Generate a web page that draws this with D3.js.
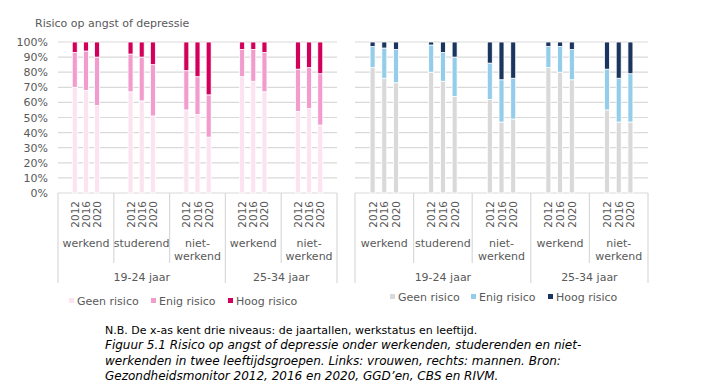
<!DOCTYPE html>
<html>
<head>
<meta charset="utf-8">
<script src="https://cdn.jsdelivr.net/npm/d3@7"></script>
<style>
  body { margin: 0; background: #fff; }
  text { font-family: "DejaVu Sans", Verdana, sans-serif; }
</style>
</head>
<body>
<div id="container"></div>
<script>
/* DATA */
const years = ['2012', '2016', '2020'];
const statuses = ['werkend', 'studerend', 'niet-werkend', 'werkend', 'niet-werkend'];
const statusAge = [0, 0, 0, 1, 1]; // index into ages
const ages = ['19-24 jaar', '25-34 jaar'];
const riskLabels = ['Geen risico', 'Enig risico', 'Hoog risico'];
const yTicks = [0, 0.1, 0.2, 0.3, 0.4, 0.5, 0.6, 0.7, 0.8, 0.9, 1];

// vrouwen (links), per groep 2012/2016/2020
const vrouwenGeen = [70, 68, 58, 67, 61, 51, 55, 52, 37, 77, 74, 67, 54, 56, 45];
const vrouwenEnig = [23, 26, 32, 25, 29, 34, 26, 25, 28, 18, 21, 26, 28, 27, 34];
const vrouwenHoog = [7, 6, 10, 8, 10, 15, 19, 23, 35, 5, 5, 7, 18, 17, 21];

// mannen (rechts)
const mannenGeen = [83, 76, 73, 80, 74, 64, 62, 47, 49, 83, 80, 75, 55, 47, 47];
const mannenEnig = [14, 20, 22, 18, 19, 26, 24, 28, 27, 14, 17, 20, 27, 29, 32];
const mannenHoog = [3, 4, 5, 2, 7, 10, 14, 25, 24, 3, 3, 5, 18, 24, 21];

const pinkColors = ['#fce3f0', '#f29bcd', '#d2005a'];
const blueColors = ['#d9d9d9', '#93cde9', '#1b365e'];

/* LAYOUT */
const width = 711, height = 390;
const plotTop = 42, plotBottom = 193;
const textColor = '#595959', gridColor = '#d9d9d9';

const svg = d3.select('#container')
  .append('svg')
  .attr('width', width)
  .attr('height', height);

const yScale = d3.scaleLinear().domain([0, 1]).range([plotBottom, plotTop]);

// title
svg.append('text')
  .attr('x', 35).attr('y', 27)
  .attr('font-size', 11).attr('fill', textColor)
  .text('Risico op angst of depressie');

// y axis labels (left only)
svg.append('g')
  .attr('transform', 'translate(50,0)')
  .call(d3.axisLeft(yScale).tickValues(yTicks).tickFormat(d3.format('.0%')).tickSize(0).tickPadding(2))
  .call(g => g.select('.domain').remove())
  .call(g => g.selectAll('text').attr('font-size', 11).attr('fill', textColor)
    .style('font-family', '"DejaVu Sans", Verdana, sans-serif'));

function makeRows(geen, enig, hoog) {
  return geen.map((v, i) => ({
    key: i,
    group: Math.floor(i / 3),
    year: years[i % 3],
    geen: v / 100, enig: enig[i] / 100, hoog: hoog[i] / 100
  }));
}

function drawPanel(x0, x1, rows, colors, legend) {
  const g = svg.append('g');

  const xGroup = d3.scaleBand()
    .domain(d3.range(statuses.length))
    .range([x0, x1]);
  const xYear = d3.scalePoint()
    .domain(years)
    .range([0, xGroup.bandwidth()])
    .padding(1.5);

  // gridlines
  g.selectAll('line.grid')
    .data(yTicks)
    .join('line')
    .attr('class', 'grid')
    .attr('x1', x0).attr('x2', x1)
    .attr('y1', d => yScale(d)).attr('y2', d => yScale(d))
    .attr('stroke', gridColor).attr('stroke-width', 1.2);

  // stacked bars
  const stack = d3.stack().keys(['geen', 'enig', 'hoog']);
  const series = stack(rows);
  const barW = 5;

  g.selectAll('g.series')
    .data(series)
    .join('g')
    .attr('class', 'series')
    .attr('fill', (d, i) => colors[i])
    .selectAll('rect')
    .data(d => d)
    .join('rect')
    .attr('x', d => xGroup(d.data.group) + xYear(d.data.year) - barW / 2)
    .attr('width', barW)
    .attr('y', d => yScale(d[1]))
    .attr('height', d => yScale(d[0]) - yScale(d[1]))
    .attr('stroke', '#fff')
    .attr('stroke-width', 0.8);

  // group dividers
  const bounds = d3.range(statuses.length + 1);
  g.selectAll('line.div')
    .data(bounds)
    .join('line')
    .attr('class', 'div')
    .attr('x1', i => i < statuses.length ? xGroup(i) : x1)
    .attr('x2', i => i < statuses.length ? xGroup(i) : x1)
    .attr('y1', plotBottom)
    .attr('y2', i => (i === 0 || i === statuses.length || statusAge[i] !== statusAge[i - 1]) ? 283 : 263)
    .attr('stroke', gridColor).attr('stroke-width', 1.2);

  // year labels
  rows.forEach(r => {
    g.append('text')
      .attr('transform', `translate(${xGroup(r.group) + xYear(r.year) + 4},201) rotate(-90)`)
      .attr('text-anchor', 'end')
      .attr('font-size', 10.5).attr('fill', textColor)
      .text(r.year);
  });

  // status labels
  statuses.forEach((s, i) => {
    const cx = xGroup(i) + xGroup.bandwidth() / 2;
    const parts = s === 'niet-werkend' ? ['niet-', 'werkend'] : [s];
    parts.forEach((p, j) => {
      g.append('text')
        .attr('x', cx).attr('y', 247 + j * 13)
        .attr('text-anchor', 'middle')
        .attr('font-size', 11).attr('fill', textColor)
        .text(p);
    });
  });

  // age labels
  ages.forEach((a, k) => {
    const idx = statusAge.map((v, i) => v === k ? i : -1).filter(i => i >= 0);
    const left = xGroup(idx[0]);
    const right = xGroup(idx[idx.length - 1]) + xGroup.bandwidth();
    g.append('text')
      .attr('x', (left + right) / 2).attr('y', 281)
      .attr('text-anchor', 'middle')
      .attr('font-size', 11).attr('fill', textColor)
      .text(a);
  });

  // legend
  const leg = g.append('g').attr('transform', `translate(0,${legend.y})`);
  riskLabels.forEach((l, i) => {
    leg.append('rect')
      .attr('x', legend.xs[i]).attr('y', -3)
      .attr('width', 5).attr('height', 5)
      .attr('fill', colors[i]);
    leg.append('text')
      .attr('x', legend.xs[i] + 8).attr('y', 0)
      .attr('dy', '0.35em')
      .attr('font-size', 11).attr('fill', textColor)
      .text(l);
  });
}

drawPanel(58, 337, makeRows(vrouwenGeen, vrouwenEnig, vrouwenHoog), pinkColors, { y: 301, xs: [69, 151, 228] });
drawPanel(355, 648, makeRows(mannenGeen, mannenEnig, mannenHoog), blueColors, { y: 297, xs: [390, 471, 548] });

// caption
svg.append('text')
  .attr('x', 105).attr('y', 334)
  .attr('font-size', 11).attr('fill', '#000')
  .text('N.B. De x-as kent drie niveaus: de jaartallen, werkstatus en leeftijd.');

const captionLines = [
  'Figuur 5.1 Risico op angst of depressie onder werkenden, studerenden en niet-',
  'werkenden in twee leeftijdsgroepen. Links: vrouwen, rechts: mannen. Bron:',
  'Gezondheidsmonitor 2012, 2016 en 2020, GGD’en, CBS en RIVM.'
];
svg.selectAll('text.caption')
  .data(captionLines)
  .join('text')
  .attr('class', 'caption')
  .attr('x', 105)
  .attr('y', (d, i) => 349 + i * 15.5)
  .attr('font-size', 12)
  .attr('font-style', 'italic')
  .attr('fill', '#000')
  .text(d => d);
</script>
</body>
</html>
